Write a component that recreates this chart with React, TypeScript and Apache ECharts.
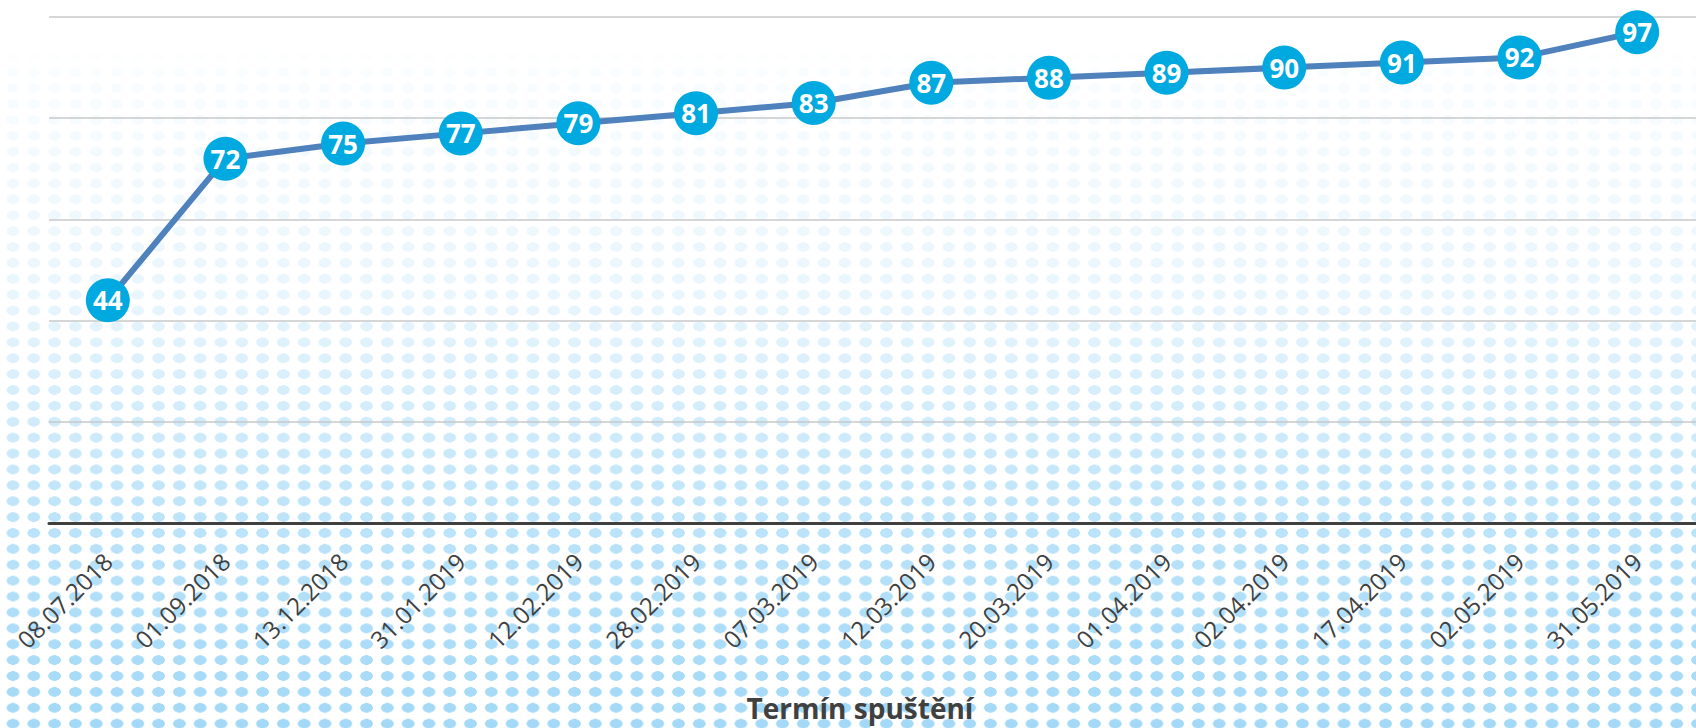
import React, { useEffect, useRef } from "react";
import * as echarts from "echarts";

const categories = [
  "08.07.2018", "01.09.2018", "13.12.2018", "31.01.2019", "12.02.2019",
  "28.02.2019", "07.03.2019", "12.03.2019", "20.03.2019", "01.04.2019",
  "02.04.2019", "17.04.2019", "02.05.2019", "31.05.2019",
];
const values = [44, 72, 75, 77, 79, 81, 83, 87, 88, 89, 90, 91, 92, 97];
const axisTitle = "Termín spuštění";

const bgStyle: React.CSSProperties = {
  position: "fixed",
  left: 0,
  top: 0,
  width: 1696,
  height: 728,
  backgroundColor: "#ffffff",
  backgroundImage:
    "linear-gradient(to bottom, rgba(255,255,255,1) 0%, rgba(255,255,255,1) 6%, rgba(255,255,255,0.93) 11%, rgba(255,255,255,0.84) 27%, rgba(255,255,255,0.75) 41%, rgba(255,255,255,0.58) 52%, rgba(255,255,255,0.31) 69%, rgba(255,255,255,0.12) 85%, rgba(255,255,255,0) 100%)," +
    "radial-gradient(ellipse 6.6px 5px at 10.4px 7.95px, #A3D9F7 90%, rgba(163,217,247,0) 100%)",
  backgroundSize: "100% 100%, 20.8px 15.9px",
  backgroundPosition: "0 0, 2.6px 0.65px",
};

export default function App() {
  const ref = useRef<HTMLDivElement>(null);
  useEffect(() => {
    document.body.style.margin = "0";
    if (!ref.current) return;
    const chart = echarts.init(ref.current, null, { renderer: "svg" });
    chart.setOption({
      animation: false,
      backgroundColor: "transparent",
      grid: { left: 49, top: 17, width: 1658, height: 506, containLabel: false },
      xAxis: {
        type: "category",
        data: categories,
        boundaryGap: true,
        axisLine: { show: true, lineStyle: { color: "#404040", width: 3 } },
        axisTick: { show: false },
        axisLabel: {
          rotate: 45,
          margin: 34,
          fontSize: 24,
          color: "#404040",
          fontFamily: "Open Sans",
          interval: 0,
        },
      },
      yAxis: {
        type: "value",
        min: 0,
        max: 100,
        interval: 20,
        axisLabel: { show: false },
        axisLine: { show: false },
        axisTick: { show: false },
        splitLine: { lineStyle: { color: "#C8C8C8", width: 1.5 } },
      },
      graphic: [
        {
          type: "text",
          x: 860,
          y: 708,
          style: {
            text: axisTitle,
            font: 'bold 28px "Open Sans"',
            fontSize: 28,
            fontWeight: "bold",
            fontFamily: "Open Sans",
            fill: "#404040",
            align: "center",
            verticalAlign: "middle",
            textAlign: "center",
            textVerticalAlign: "middle",
          },
        },
      ],
      series: [
        {
          type: "line",
          data: values,
          symbol: "circle",
          symbolSize: 44,
          itemStyle: { color: "#00A9E0" },
          lineStyle: { color: "#4F81BD", width: 6 },
          label: {
            show: true,
            position: "inside",
            color: "#ffffff",
            fontWeight: "bold",
            fontSize: 26,
            fontFamily: "Open Sans",
          },
        },
      ],
    });
    return () => chart.dispose();
  }, []);
  return (
    <div style={bgStyle}>
      <div ref={ref} style={{ width: 1696, height: 728 }} />
    </div>
  );
}
